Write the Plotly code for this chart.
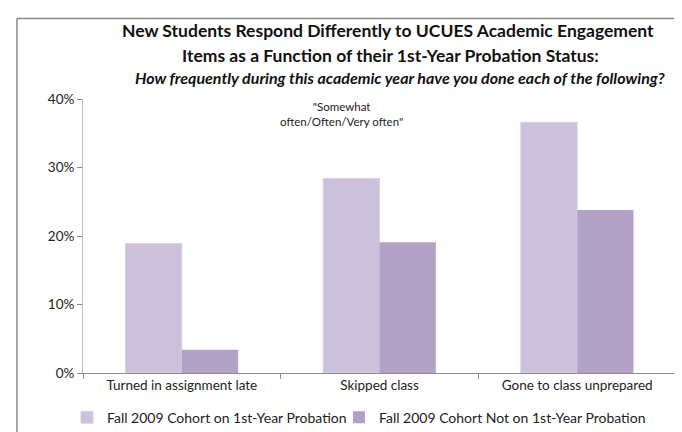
import plotly.graph_objects as go

categories = ["Turned in assignment late", "Skipped class", "Gone to class unprepared"]
on_probation = [0.189, 0.284, 0.366]
not_on_probation = [0.034, 0.191, 0.238]
series_names = ["Fall 2009 Cohort on 1st-Year Probation", "Fall 2009 Cohort Not on 1st-Year Probation"]
y_ticks = [0, 0.1, 0.2, 0.3, 0.4]
y_tick_labels = ["0%", "10%", "20%", "30%", "40%"]

FONT = "Lato, 'Liberation Sans', sans-serif"

fig = go.Figure()
fig.add_trace(go.Bar(x=categories, y=on_probation, name=series_names[0], legend="legend",
                     marker=dict(color="#CCC1DA", line=dict(color="#D9D0E4", width=1))))
fig.add_trace(go.Bar(x=categories, y=not_on_probation, name=series_names[1], legend="legend2",
                     marker=dict(color="#B3A2C7", line=dict(width=0))))

legend_common = dict(orientation="h", xanchor="left", y=-0.163, yanchor="middle",
                     font=dict(size=14, color="#222222"), itemwidth=30,
                     bgcolor="rgba(0,0,0,0)")

fig.update_layout(
    template="none",
    width=682, height=432,
    margin=dict(l=75, r=14, t=91, b=67, autoexpand=False),
    paper_bgcolor="white", plot_bgcolor="white",
    barmode="group", bargap=0.43, bargroupgap=0,
    font=dict(family=FONT, size=13, color="#222222"),
    showlegend=True,
    legend=dict(x=(59 - 75) / 593, **legend_common),
    legend2=dict(x=(331 - 75) / 593, **legend_common),
    xaxis=dict(type="category", showline=True, linecolor="#8C8C8C", linewidth=1,
               ticks="outside", tickson="boundaries", ticklen=5, tickcolor="#8C8C8C",
               showgrid=False, automargin=False, tickfont=dict(size=13.5, color="#222222")),
    yaxis=dict(range=[0, 0.4], tickvals=y_ticks, ticktext=y_tick_labels,
               showline=True, linecolor="#BFBFBF", linewidth=1,
               ticks="outside", ticklen=5, tickcolor="#8C8C8C",
               showgrid=False, zeroline=False, automargin=False,
               tickfont=dict(size=13.5, color="#222222")),
)

annotations = [
    dict(text="<b>New Students Respond Differently to UCUES Academic Engagement</b>",
         x=380, y=22, font=dict(size=17.5, color="#111111")),
    dict(text="<b>Items as a Function of their 1st-Year Probation Status:</b>",
         x=382, y=47, font=dict(size=17.5, color="#111111")),
    dict(text="<b><i>How frequently during this academic year have you done each of the following?</i></b>",
         x=392, y=69, font=dict(size=16, color="#111111")),
    dict(text="\"Somewhat<br>often/Often/Very often\"",
         x=333, y=106, font=dict(size=11.5, color="#222222")),
]
for a in annotations:
    fig.add_annotation(text=a["text"], xref="paper", yref="paper",
                       x=(a["x"] - 75) / 593, y=(365.3 - a["y"]) / 274.6,
                       xanchor="center", yanchor="middle", showarrow=False, font=a["font"])

# outer chart border (cropped at right and bottom)
fig.add_shape(type="line", xref="paper", yref="paper",
              x0=(9 - 75) / 593, x1=(682 - 75) / 593,
              y0=(365.3 - 10) / 274.6, y1=(365.3 - 10) / 274.6,
              line=dict(color="#888888", width=1.5))
fig.add_shape(type="line", xref="paper", yref="paper",
              x0=(9 - 75) / 593, x1=(9 - 75) / 593,
              y0=(365.3 - 10) / 274.6, y1=(365.3 - 432) / 274.6,
              line=dict(color="#888888", width=1.5))

fig.write_html("out.html")
